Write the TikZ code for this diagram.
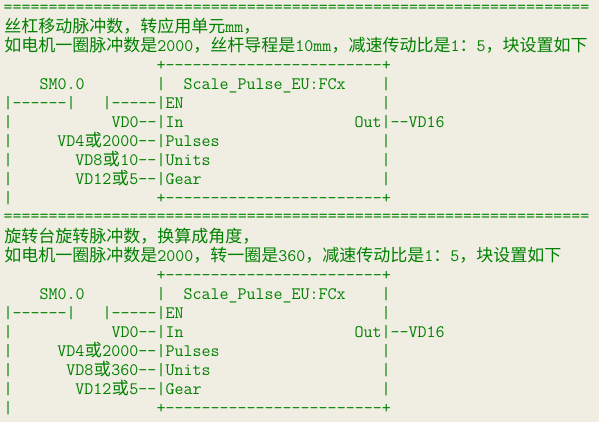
\documentclass[tikz,border=0pt]{standalone}
\usepackage{fontspec}
\newfontfamily\cjk{Noto Sans CJK SC}
\definecolor{bgc}{RGB}{240,238,226}
\definecolor{txt}{RGB}{0,128,0}
\tikzset{
  ln/.style={anchor=base west, inner sep=0pt, outer sep=0pt, text=txt,
    font={\ttfamily\fontsize{17.5}{19}\selectfont}},
  lnr/.style={ln, anchor=base east}
}
\newcommand\zh[1]{{\cjk\fontsize{17}{19}\selectfont #1}}
\newcommand\zq[1]{\makebox[18pt]{\cjk\fontsize{17}{19}\selectfont #1}}
\newcommand\X[1]{{3.5+9*(#1)}}
\newcommand\Y[1]{{-(14+19*(#1))}}
\newcommand\Yq[1]{{-(12.5+19*(#1))}}
\newcommand\blockart[5]{%
  \node[ln] (#2eq) at (\X{0},\Yq{#1}) {=================================================================};
  \node[ln] (#2t1) at (\X{0.1},\Y{#1+1}) {#3};
  \node[ln] (#2t2) at (\X{0.1},\Y{#1+2}) {#4};
  \node[ln] (#2top) at (\X{17},\Y{#1+3}) {+------------------------+};
  \node[ln] (#2sm) at (\X{4},\Y{#1+4}) {SM0.0};
  \node[ln] (#2l4) at (\X{17},\Y{#1+4}) {|};
  \node[ln] (#2fn) at (\X{20},\Y{#1+4}) {Scale\_Pulse\_EU:FCx};
  \node[ln] (#2r4) at (\X{42},\Y{#1+4}) {|};
  \node[ln] (#2en1) at (\X{0},\Y{#1+5}) {|------|};
  \node[ln] (#2en2) at (\X{11},\Y{#1+5}) {|-----|EN};
  \node[ln] (#2r5) at (\X{42},\Y{#1+5}) {|};
  \node[ln] (#2l6) at (\X{0},\Y{#1+6}) {|};
  \node[ln] (#2in) at (\X{12},\Y{#1+6}) {VD0--|In};
  \node[ln] (#2out) at (\X{39},\Y{#1+6}) {Out|--VD16};
  \node[ln] (#2l7) at (\X{0},\Y{#1+7}) {|};
  \node[lnr] (#2v7) at (\X{17},\Y{#1+7}) {VD4\zq{或}2000--};
  \node[ln] (#2p7) at (\X{17},\Y{#1+7}) {|Pulses};
  \node[ln] (#2r7) at (\X{42},\Y{#1+7}) {|};
  \node[ln] (#2l8) at (\X{0},\Y{#1+8}) {|};
  \node[lnr] (#2v8) at (\X{17},\Y{#1+8}) {#5};
  \node[ln] (#2p8) at (\X{17},\Y{#1+8}) {|Units};
  \node[ln] (#2r8) at (\X{42},\Y{#1+8}) {|};
  \node[ln] (#2l9) at (\X{0},\Y{#1+9}) {|};
  \node[lnr] (#2v9) at (\X{17},\Y{#1+9}) {VD12\zq{或}5--};
  \node[ln] (#2p9) at (\X{17},\Y{#1+9}) {|Gear};
  \node[ln] (#2r9) at (\X{42},\Y{#1+9}) {|};
  \node[ln] (#2l10) at (\X{0},\Y{#1+10}) {|};
  \node[ln] (#2bot) at (\X{17},\Y{#1+10}) {+------------------------+};
}
\begin{document}
\begin{tikzpicture}[x=1pt,y=1pt]
\fill[bgc] (0,0) rectangle (599,-422);
\useasboundingbox (0,0) rectangle (599,-422);
\blockart{0}{a}{\zh{丝杠移动脉冲数，转应用单元}mm\zh{，}}{\zh{如电机一圈脉冲数是}2000\zh{，丝杆导程是}10mm\zh{，减速传动比是}1\zh{：}5\zh{，块设置如下}}{VD8\zq{或}10--}
\blockart{11}{b}{\zh{旋转台旋转脉冲数，换算成角度，}}{\zh{如电机一圈脉冲数是}2000\zh{，转一圈是}360\zh{，减速传动比是}1\zh{：}5\zh{，块设置如下}}{VD8\zq{或}360--}
\end{tikzpicture}
\end{document}
